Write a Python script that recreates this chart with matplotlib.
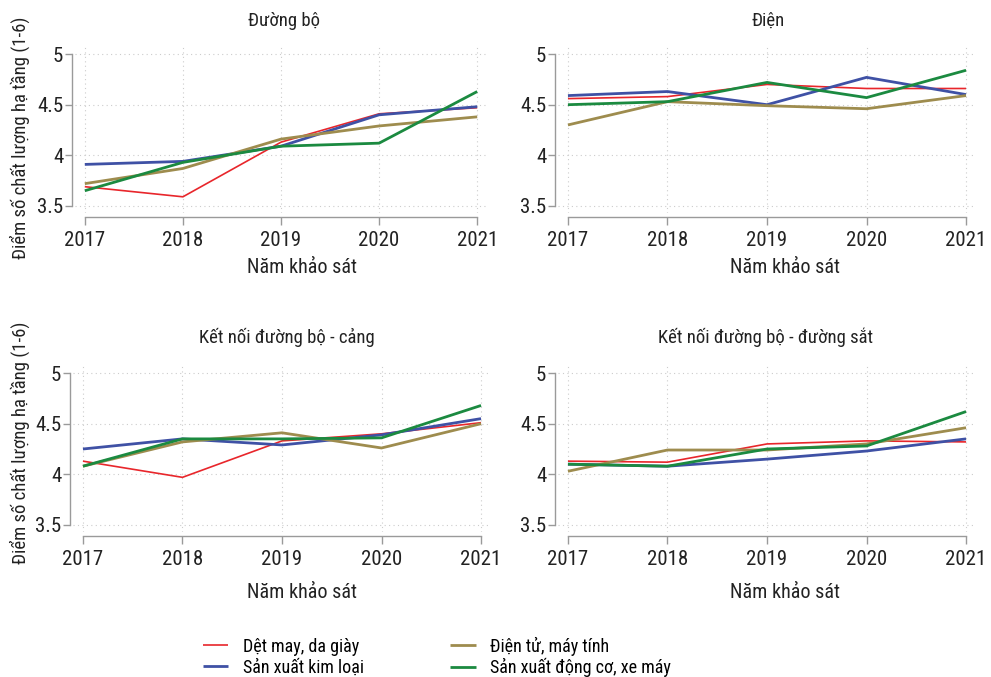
import matplotlib
matplotlib.use("Agg")
import matplotlib.pyplot as plt
from matplotlib import font_manager

names = {f.name for f in font_manager.fontManager.ttflist}
for fam in ["Liberation Sans Narrow", "Roboto Condensed", "Roboto"]:
    if fam in names:
        plt.rcParams["font.family"] = [fam, "DejaVu Sans"]
        break

years = [2017, 2018, 2019, 2020, 2021]
panels = ["Đường bộ", "Điện", "Kết nối đường bộ - cảng", "Kết nối đường bộ - đường sắt"]
sectors = ["Dệt may, da giày", "Sản xuất kim loại", "Điện tử, máy tính", "Sản xuất động cơ, xe máy"]
colors = ["#E8262B", "#3F51A5", "#9E8C4E", "#1B8A40"]
widths = [1.2, 2.0, 2.0, 2.0]

# scores per panel, one row per sector (same order as `sectors`)
duong_bo = [
    [3.69, 3.59, 4.13, 4.41, 4.47],
    [3.91, 3.94, 4.09, 4.40, 4.48],
    [3.72, 3.87, 4.16, 4.29, 4.38],
    [3.65, 3.93, 4.09, 4.12, 4.63],
]
dien = [
    [4.56, 4.58, 4.70, 4.66, 4.66],
    [4.59, 4.63, 4.50, 4.77, 4.60],
    [4.30, 4.53, 4.49, 4.46, 4.59],
    [4.50, 4.53, 4.72, 4.57, 4.84],
]
bo_cang = [
    [4.13, 3.97, 4.33, 4.40, 4.51],
    [4.25, 4.35, 4.29, 4.39, 4.55],
    [4.08, 4.32, 4.41, 4.26, 4.50],
    [4.08, 4.35, 4.35, 4.36, 4.68],
]
bo_sat = [
    [4.13, 4.12, 4.30, 4.33, 4.32],
    [4.10, 4.08, 4.15, 4.23, 4.35],
    [4.03, 4.24, 4.24, 4.30, 4.46],
    [4.10, 4.08, 4.25, 4.28, 4.62],
]
data = [duong_bo, dien, bo_cang, bo_sat]

W, H = 991, 677
fig = plt.figure(figsize=(W / 100, H / 100), dpi=100)

# axes boxes in pixels: left, top, right, bottom
boxes = [(75, 47, 487, 213), (558, 47, 976, 213),
         (73, 366, 491, 532), (558, 366, 976, 532)]
title_pos = [(284, 21), (768, 21), (287, 337), (766, 337)]
xlab_pos = [(302, 268), (785, 268), (302, 593), (785, 593)]

grey = "#9a9a9a"
ink = "#222222"
lines = []
for i, (l, t, r, b) in enumerate(boxes):
    ax = fig.add_axes([l / W, 1 - b / H, (r - l) / W, (b - t) / H])
    for vals, c, lw in zip(data[i], colors, widths):
        ln, = ax.plot(years, vals, color=c, lw=lw, solid_capstyle="butt")
        if i == 0:
            lines.append(ln)
    ax.set_xlim(2016.9, 2021.1)
    ax.set_ylim(3.43, 5.07)
    ax.set_xticks(years)
    ax.set_yticks([3.5, 4, 4.5, 5])
    ax.set_yticklabels(["3.5", "4", "4.5", "5"])
    ax.grid(True, color="#cccccc", ls=(0, (1, 3)), lw=0.8)
    ax.set_axisbelow(True)
    for s in ["top", "right"]:
        ax.spines[s].set_visible(False)
    ax.spines["left"].set_position(("outward", 2))
    ax.spines["bottom"].set_position(("outward", 3))
    ax.spines["left"].set_bounds(3.5, 5)
    ax.spines["bottom"].set_bounds(2017, 2021)
    for s in ["left", "bottom"]:
        ax.spines[s].set_color(grey)
        ax.spines[s].set_linewidth(1.0)
    ax.tick_params(colors=grey, labelcolor=ink, labelsize=15,
                   length=5, width=1.0, pad=1.5)
    ax.tick_params(axis="x", length=6, pad=4)
    fig.text(title_pos[i][0] / W, 1 - title_pos[i][1] / H, panels[i],
             ha="center", va="center", fontsize=13.5, color=ink)
    fig.text(xlab_pos[i][0] / W, 1 - xlab_pos[i][1] / H, "Năm khảo sát",
             ha="center", va="center", fontsize=14.5, color=ink)

ylab = "Điểm số chất lượng hạ tầng (1-6)"
for yc in (138, 443):
    fig.text(20 / W, 1 - yc / H, ylab, rotation=90, ha="center", va="center",
             fontsize=13.5, color=ink)

fig.legend(lines, sectors, ncol=2, loc="center left", frameon=False,
           bbox_to_anchor=(203 / W, 1 - 657 / H), fontsize=13,
           handlelength=1.4, handletextpad=0.8, columnspacing=4.8,
           labelspacing=0.15, borderaxespad=0, borderpad=0)

fig.savefig("out.png", dpi=100)
